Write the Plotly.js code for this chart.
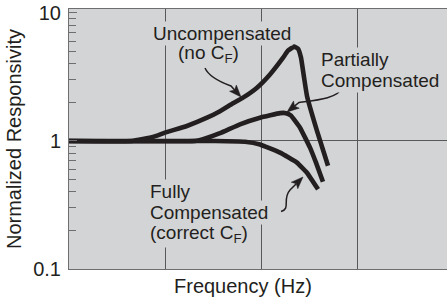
<!DOCTYPE html>
<html><head><meta charset="utf-8">
<script src="https://cdn.plot.ly/plotly-3.0.1.min.js"></script>
<style>html,body{margin:0;padding:0;background:#fff}#chart{width:447px;height:298px}</style>
</head><body><div id="chart"></div>
<script>
// ---- data (frequency in Hz, log scale; normalized responsivity) ----
const freqUncomp = [1, 4.53, 7.50, 10.0, 16.9, 27.4, 37.4, 51.1, 64.9, 90.8, 124, 170, 191, 221, 243, 261, 281, 301, 383, 499];
const respUncomp = [1, 1, 1.075, 1.161, 1.31, 1.52, 1.71, 1.97, 2.18, 2.61, 3.31, 4.48, 5.07, 5.46, 5.26, 4.48, 3.12, 2.26, 1.20, 0.641];
const freqPartial = [1, 20.5, 24.9, 37.4, 60.4, 97.7, 158, 182, 205, 255, 324, 374, 442];
const respPartial = [1, 1, 1.033, 1.15, 1.35, 1.52, 1.65, 1.65, 1.58, 1.27, 0.887, 0.677, 0.481];
const freqFull = [1, 33.2, 68.1, 97.7, 158, 237, 301, 393];
const respFull = [1, 1, 0.987, 0.94, 0.811, 0.677, 0.565, 0.419];
const yTickVals = [0.1, 1, 10];
const yTickText = ['0.1', '1', '10'];
const yMinorVals = [0.2,0.3,0.4,0.5,0.6,0.7,0.8,0.9,2,3,4,5,6,7,8,9];
const xGridVals = [10, 100, 1000];
const yGridVals = [1];

// ---- layout helpers ----
const W = 447, H = 298, L = 69, R = 0, T = 9, B = 29;
const pw = W - L - R, ph = H - T - B;
const PX = x => (x - L) / pw;
const PY = y => (H - B - y) / ph;
const FONT = 'Liberation Sans, Arial, Helvetica, sans-serif';
const INK = '#231f20';
const BG = '#d3d4d6';
const GRID = '#58585a';
const AXC = '#6d6e70';
const FS = 20;
const LFS = 19;

const lineStyle = {color: INK, width: 4.6, shape: 'spline', smoothing: 0.3};
const traces = [
  {x: freqUncomp, y: respUncomp, mode: 'lines', line: lineStyle, name: 'Uncompensated', hoverinfo: 'skip'},
  {x: freqPartial, y: respPartial, mode: 'lines', line: lineStyle, name: 'Partially Compensated', hoverinfo: 'skip'},
  {x: freqFull, y: respFull, mode: 'lines', line: lineStyle, name: 'Fully Compensated', yaxis: 'y2', hoverinfo: 'skip'}
];

function label(text, xpx, ybase, anchor) {
  return {text: text, xref: 'paper', yref: 'paper', x: PX(xpx), y: PY(ybase - 3.3),
    xanchor: anchor || 'left', yanchor: 'middle', showarrow: false,
    bgcolor: BG, borderpad: 1, font: {family: FONT, size: LFS, color: INK}};
}
const P = (x, y) => `${PX(x)},${PY(y)}`;
function arrowShapes(pts, tip) {
  // pts: tail, control1, control2, end (pixels); tip: arrow point (pixels)
  const [x0, y0, c1x, c1y, c2x, c2y, ex, ey] = pts;
  const [tx, ty] = tip;
  const dx = tx - ex, dy = ty - ey, d = Math.hypot(dx, dy);
  const ux = dx / d, uy = dy / d, nx = -uy, ny = ux;
  const len = 12, hw = 4.6, notch = 2.5;
  const bx = tx - ux * len, by = ty - uy * len;
  const mx = tx - ux * (len - notch), my = ty - uy * (len - notch);
  return [
    {type: 'path', xref: 'paper', yref: 'paper',
     path: `M${P(x0, y0)} C${P(c1x, c1y)} ${P(c2x, c2y)} ${P(ex, ey)} L${P(mx, my)}`,
     line: {color: INK, width: 1.5}},
    {type: 'path', xref: 'paper', yref: 'paper',
     path: `M${P(tx, ty)} L${P(bx + nx * hw, by + ny * hw)} L${P(mx, my)} L${P(bx - nx * hw, by - ny * hw)} Z`,
     fillcolor: INK, line: {color: INK, width: 0.5}}
  ];
}

const annotations = [
  label('(no C<sub>F</sub>)', 176, 57.5),
  label('Uncompensated', 222, 36.5, 'center'),
  label('Compensated', 319, 83.5),
  label('Partially', 319, 62.5),
  label('(correct C<sub>F</sub>)', 148, 237),
  label('Compensated', 148, 216),
  label('Fully', 148, 195),
  {text: 'Frequency (Hz)', xref: 'paper', yref: 'paper', x: PX(243), y: PY(286),
   xanchor: 'center', yanchor: 'middle', showarrow: false, font: {family: FONT, size: FS, color: INK}}
];

const shapes = [].concat(
  arrowShapes([205, 68, 209, 77, 220, 82, 231, 86], [241, 97]),
  arrowShapes([342, 88, 338, 98, 318, 100, 299, 102.5], [287, 112]),
  arrowShapes([281, 211.5, 291, 209, 282, 199, 290, 190], [303, 177])
);

const axisCommon = {type: 'log', zeroline: false, fixedrange: true};
const layout = {
  width: W, height: H,
  margin: {l: L, r: R, t: T, b: B, pad: 0},
  paper_bgcolor: '#ffffff', plot_bgcolor: BG,
  showlegend: false,
  font: {family: FONT, size: FS, color: INK},
  xaxis: Object.assign({}, axisCommon, {
    range: [0, 3.9375], tickmode: 'array', tickvals: xGridVals, showticklabels: false, ticks: '',
    showgrid: true, gridcolor: GRID, gridwidth: 1,
    showline: true, linecolor: AXC, linewidth: 1, mirror: true
  }),
  yaxis: Object.assign({}, axisCommon, {
    range: [-1, 1.031], tickmode: 'array', tickvals: yTickVals, ticktext: yTickText,
    ticks: 'inside', ticklen: 8, tickwidth: 1, tickcolor: AXC,
    showgrid: false, showline: true, linecolor: AXC, linewidth: 1,
    ticklabelstandoff: 3,
    tickfont: {family: FONT, size: FS, color: INK},
    minor: {tickmode: 'array', tickvals: yMinorVals, ticks: 'inside', ticklen: 7, tickwidth: 1, tickcolor: AXC, showgrid: false},
    title: {text: 'Normalized Responsivity', font: {family: FONT, size: FS, color: INK}, standoff: 6}
  }),
  yaxis2: Object.assign({}, axisCommon, {
    overlaying: 'y', side: 'left', range: [-1, 1.031], tickmode: 'array', tickvals: yGridVals,
    showticklabels: false, ticks: '', showgrid: true, gridcolor: GRID, gridwidth: 1, showline: false
  }),
  annotations: annotations,
  shapes: shapes
};

Plotly.newPlot('chart', traces, layout, {displayModeBar: false, staticPlot: true});
</script>
</body></html>
